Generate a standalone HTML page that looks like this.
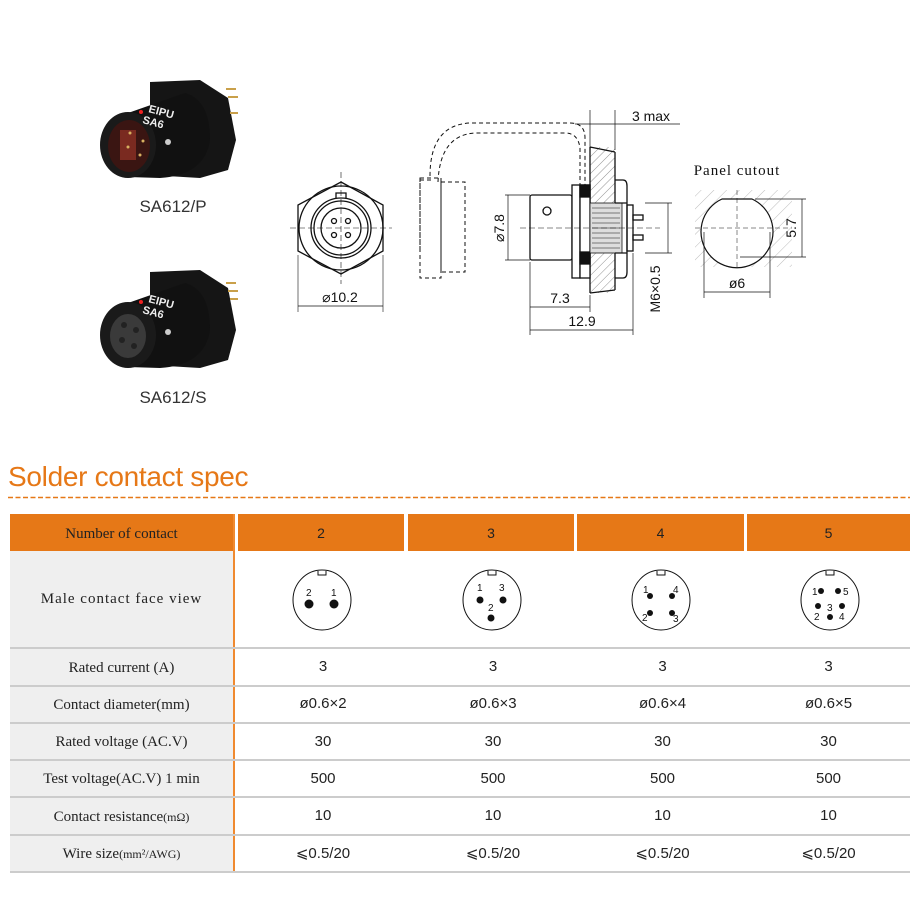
<!DOCTYPE html>
<html><head><meta charset="utf-8"><style>
body{margin:0;width:910px;height:900px;background:#fff;position:relative;overflow:hidden;font-family:"Liberation Sans",sans-serif}
.a{position:absolute}
.cell{position:absolute;display:flex;align-items:center;justify-content:center;font-size:14px;color:#222}
.lab{font-family:"Liberation Serif",serif;font-size:15px;color:#222}
.hd{background:#e67817}
</style></head><body>
<svg class="a" style="left:0;top:0" width="910" height="460" viewBox="0 0 910 460">
<defs>
<pattern id="h" width="6" height="6" patternUnits="userSpaceOnUse" patternTransform="rotate(45)"><line x1="0" y1="0" x2="0" y2="6" stroke="#777" stroke-width="0.8"/></pattern>
<pattern id="h2" width="9" height="9" patternUnits="userSpaceOnUse" patternTransform="rotate(45)"><line x1="0" y1="0" x2="0" y2="9" stroke="#aaa" stroke-width="0.8"/></pattern>
</defs>
<!-- photo 1 -->
<g>
<polygon points="150,82 200,80 228,98 236,140 228,170 200,178 150,175" fill="#151515"/>
<rect x="226" y="88" width="10" height="2" fill="#c9a04a"/><rect x="228" y="96" width="10" height="2" fill="#c9a04a"/><rect x="230" y="112" width="8" height="2" fill="#c9a04a"/>
<path d="M128,113 L185,93 Q210,100 210,140 Q205,175 160,178 L128,177 Z" fill="#111"/>
<ellipse cx="128" cy="145" rx="28" ry="33" fill="#1a1a1a"/>
<ellipse cx="129" cy="146" rx="21" ry="26" fill="#3a1512"/>
<rect x="120" y="130" width="16" height="30" fill="#7a2a20"/>
<circle cx="130" cy="133" r="1.5" fill="#d7b060"/><circle cx="143" cy="141" r="1.5" fill="#d7b060"/><circle cx="128" cy="147" r="1.5" fill="#d7b060"/><circle cx="140" cy="155" r="1.5" fill="#d7b060"/>
<circle cx="168" cy="142" r="3" fill="#ccc"/>
<text x="148" y="112" font-size="11" fill="#eee" font-weight="bold" transform="rotate(15 148 112)">EIPU</text>
<text x="142" y="123" font-size="11" fill="#eee" font-weight="bold" transform="rotate(15 142 123)">SA6</text>
<circle cx="141" cy="112" r="2" fill="#e22"/>
</g>
<!-- photo 2 -->
<g>
<polygon points="150,272 200,270 228,288 236,330 228,360 200,368 150,365" fill="#151515"/>
<rect x="226" y="282" width="10" height="2" fill="#c9a04a"/><rect x="228" y="290" width="10" height="2" fill="#c9a04a"/><rect x="230" y="298" width="8" height="2" fill="#c9a04a"/>
<path d="M128,303 L185,283 Q210,290 210,330 Q205,365 160,368 L128,367 Z" fill="#111"/>
<ellipse cx="128" cy="335" rx="28" ry="33" fill="#1a1a1a"/>
<ellipse cx="128" cy="336" rx="18" ry="22" fill="#3a3a3a"/>
<circle cx="124" cy="325" r="3" fill="#222"/><circle cx="136" cy="330" r="3" fill="#222"/><circle cx="122" cy="340" r="3" fill="#222"/><circle cx="134" cy="346" r="3" fill="#222"/>
<circle cx="168" cy="332" r="3" fill="#ccc"/>
<text x="148" y="302" font-size="11" fill="#eee" font-weight="bold" transform="rotate(15 148 302)">EIPU</text>
<text x="142" y="313" font-size="11" fill="#eee" font-weight="bold" transform="rotate(15 142 313)">SA6</text>
<circle cx="141" cy="302" r="2" fill="#e22"/>
</g>
<text x="173" y="212" font-size="17" fill="#333" text-anchor="middle">SA612/P</text>
<text x="173" y="403" font-size="17" fill="#333" text-anchor="middle">SA612/S</text>

<g fill="none" stroke="#111" stroke-width="1.3">
<polygon points="341,182 383,205 383,251 341,274 298,251 298,205"/>
<circle cx="341" cy="228" r="42"/>
<circle cx="341" cy="228" r="30"/>
<circle cx="341" cy="228" r="27"/>
<circle cx="341" cy="228" r="20"/>
<path d="M336,198 v-5 h10 v5"/>
<circle cx="334" cy="221" r="2.5"/><circle cx="348" cy="221" r="2.5"/><circle cx="334" cy="235" r="2.5"/><circle cx="348" cy="235" r="2.5"/>
<line x1="290" y1="228" x2="392" y2="228" stroke-dasharray="6,3" stroke-width="0.6"/>
<line x1="341" y1="172" x2="341" y2="284" stroke-dasharray="6,3" stroke-width="0.6"/>
<line x1="298" y1="255" x2="298" y2="312" stroke-width="0.6"/><line x1="383" y1="255" x2="383" y2="312" stroke-width="0.6"/>
<line x1="298" y1="306" x2="383" y2="306" stroke-width="0.7"/>
</g>
<text x="340" y="302" font-size="14" text-anchor="middle" fill="#111">⌀10.2</text>

<g fill="none" stroke="#111" stroke-width="1.3">
<path d="M420,250 V180 h12 v0 M430,176 Q430,125 470,123 H570 Q585,123 585,138 V185" stroke-dasharray="4,3" stroke-width="1"/>
<path d="M438,182 Q440,135 475,133 H565 Q578,133 580,148 V185" stroke-dasharray="4,3" stroke-width="1"/>
<rect x="420" y="178" width="21" height="100" stroke-dasharray="4,3" stroke-width="1"/>
<rect x="441" y="182" width="24" height="90" stroke-dasharray="4,3" stroke-width="1"/>
<rect x="590" y="147" width="25" height="146" fill="url(#h)" stroke="none"/>
<path d="M590,147 V293 M615,152 V290 M590,147 L615,152 M590,293 L615,290"/>
<rect x="530" y="195" width="42" height="65" rx="2" fill="#fff"/>
<circle cx="547" cy="211" r="4"/>
<rect x="572" y="185" width="8" height="93" fill="#fff"/>
<rect x="580" y="185" width="10" height="93" fill="#fff"/>
<rect x="580" y="185" width="10" height="12" fill="#111"/><rect x="580" y="252" width="10" height="12" fill="#111"/>
<rect x="590" y="203" width="32" height="50" fill="#ddd" stroke-width="0.8"/>
<path d="M592,208h28M592,213h28M592,218h28M592,223h28M592,228h28M592,233h28M592,238h28M592,243h28M592,248h28" stroke-width="0.6"/>
<path d="M615,180 h8 q4,0 4,6 v86 q0,6 -4,6 h-8 M615,203 h12 M615,253 h12"/>
<rect x="627" y="205" width="6" height="46"/>
<rect x="633" y="215" width="10" height="5"/><rect x="633" y="235" width="10" height="5"/>
<line x1="520" y1="228" x2="660" y2="228" stroke-dasharray="6,3" stroke-width="0.6"/>
<g stroke-width="0.7">
<line x1="505" y1="195" x2="530" y2="195"/><line x1="505" y1="260" x2="530" y2="260"/><line x1="508" y1="195" x2="508" y2="260"/>
<line x1="530" y1="262" x2="530" y2="335"/><line x1="590" y1="295" x2="590" y2="312"/><line x1="633" y1="253" x2="633" y2="335"/>
<line x1="530" y1="307" x2="590" y2="307"/><line x1="530" y1="330" x2="633" y2="330"/>
<line x1="590" y1="110" x2="590" y2="147"/><line x1="615" y1="110" x2="615" y2="150"/>
<line x1="575" y1="124" x2="680" y2="124"/>
<line x1="645" y1="203" x2="672" y2="203"/><line x1="645" y1="253" x2="672" y2="253"/><line x1="668" y1="203" x2="668" y2="253"/>
</g>
</g>
<text x="504" y="228" font-size="14" text-anchor="middle" fill="#111" transform="rotate(-90 504 228)">⌀7.8</text>
<text x="560" y="303" font-size="14" text-anchor="middle" fill="#111">7.3</text>
<text x="582" y="326" font-size="14" text-anchor="middle" fill="#111">12.9</text>
<text x="660" y="289" font-size="14" text-anchor="middle" fill="#111" transform="rotate(-90 660 289)">M6×0.5</text>
<text x="651" y="121" font-size="14" text-anchor="middle" fill="#111">3 max</text>
<text x="737" y="175" font-size="15" text-anchor="middle" fill="#111" font-family="Liberation Serif" letter-spacing="1">Panel cutout</text>
<rect x="695" y="190" width="97" height="77" fill="url(#h2)"/>
<path d="M722,199 H752 A36,36 0 1 1 722,199 Z" fill="#fff" stroke="#111" stroke-width="1.2"/>
<g stroke="#111" stroke-width="0.7" fill="none">
<line x1="695" y1="228" x2="792" y2="228" stroke-dasharray="5,3" stroke-width="0.5"/>
<line x1="737" y1="190" x2="737" y2="267" stroke-dasharray="5,3" stroke-width="0.5"/>
<line x1="755" y1="199" x2="806" y2="199"/><line x1="740" y1="257" x2="806" y2="257"/><line x1="802" y1="199" x2="802" y2="257"/>
<line x1="704" y1="232" x2="704" y2="298"/><line x1="770" y1="232" x2="770" y2="298"/><line x1="704" y1="292" x2="770" y2="292"/>
</g>
<text x="796" y="228" font-size="14" text-anchor="middle" fill="#111" transform="rotate(-90 796 228)">5.7</text>
<text x="737" y="288" font-size="14" text-anchor="middle" fill="#111">ø6</text>
</svg>

<div class="a" style="left:8px;top:461px;font-size:28px;color:#e67817;font-family:'Liberation Sans',sans-serif;letter-spacing:-0.3px">Solder contact spec</div>
<svg class="a" style="left:8px;top:496px" width="902" height="3"><line x1="0" y1="1.5" x2="902" y2="1.5" stroke="#e67817" stroke-width="1.5" stroke-dasharray="5,2.5"/></svg>

<div class="a" style="left:10px;top:551px;width:224px;height:321px;background:#efefef"></div>
<div class="a" style="left:233px;top:514px;width:2px;height:358px;background:#f08a30"></div>
<div class="cell hd lab" style="left:10px;top:518px;width:223px;height:33px;font-size:15px">Number of contact</div>
<div class="a hd" style="left:10px;top:514px;width:223px;height:4px"></div>
<div class="cell hd" style="left:238px;top:514px;width:166px;height:37px">2</div>
<div class="cell hd" style="left:408px;top:514px;width:166px;height:37px">3</div>
<div class="cell hd" style="left:577px;top:514px;width:167px;height:37px">4</div>
<div class="cell hd" style="left:747px;top:514px;width:163px;height:37px">5</div>

<div class="cell lab" style="left:10px;top:551px;width:223px;height:97px;letter-spacing:1px">Male contact face view</div>
<svg class="a" style="left:235px;top:551px" width="675" height="97" viewBox="235 551 675 97" font-family="Liberation Sans" font-size="10" fill="#111">
<g fill="none" stroke="#111" stroke-width="1"><ellipse cx="322" cy="600" rx="29" ry="30"/><ellipse cx="492" cy="600" rx="29" ry="30"/><ellipse cx="661" cy="600" rx="29" ry="30"/><ellipse cx="830" cy="600" rx="29" ry="30"/>
<path d="M318,571v4h8v-4M488,571v4h8v-4M657,571v4h8v-4M826,571v4h8v-4"/></g>
<circle cx="309" cy="604" r="4.5"/><circle cx="334" cy="604" r="4.5"/><text x="306" y="596">2</text><text x="331" y="596">1</text>
<circle cx="480" cy="600" r="3.5"/><circle cx="503" cy="600" r="3.5"/><circle cx="491" cy="618" r="3.5"/><text x="477" y="591">1</text><text x="499" y="591">3</text><text x="488" y="611">2</text>
<circle cx="650" cy="596" r="3"/><circle cx="672" cy="596" r="3"/><circle cx="650" cy="613" r="3"/><circle cx="672" cy="613" r="3"/><text x="643" y="593">1</text><text x="673" y="593">4</text><text x="642" y="621">2</text><text x="673" y="622">3</text>
<circle cx="821" cy="591" r="3"/><circle cx="838" cy="591" r="3"/><circle cx="818" cy="606" r="3"/><circle cx="842" cy="606" r="3"/><circle cx="830" cy="617" r="3"/><text x="812" y="595">1</text><text x="843" y="595">5</text><text x="827" y="611">3</text><text x="814" y="620">2</text><text x="839" y="620">4</text>
</svg>

<div class="a" style="left:10px;top:647px;width:900px;height:2px;background:#ccc"></div>
<div class="a" style="left:10px;top:685px;width:900px;height:2px;background:#ccc"></div>
<div class="a" style="left:10px;top:722px;width:900px;height:2px;background:#ccc"></div>
<div class="a" style="left:10px;top:759px;width:900px;height:2px;background:#ccc"></div>
<div class="a" style="left:10px;top:796px;width:900px;height:2px;background:#ccc"></div>
<div class="a" style="left:10px;top:834px;width:900px;height:2px;background:#ccc"></div>
<div class="a" style="left:10px;top:871px;width:900px;height:2px;background:#ccc"></div>

<div class="cell lab" style="left:10px;top:650px;width:223px;height:36px">Rated current (A)</div>
<div class="cell lab" style="left:10px;top:688px;width:223px;height:35px">Contact diameter(mm)</div>
<div class="cell lab" style="left:10px;top:725px;width:223px;height:35px">Rated voltage (AC.V)</div>
<div class="cell lab" style="left:10px;top:762px;width:223px;height:35px">Test voltage(AC.V) 1 min</div>
<div class="cell lab" style="left:10px;top:799px;width:223px;height:36px">Contact resistance<span style="font-size:12px">(mΩ)</span></div>
<div class="cell lab" style="left:10px;top:837px;width:223px;height:35px">Wire size<span style="font-size:12px">(mm²/AWG)</span></div>

<div class="a" style="left:238px;top:649px;width:672px">
<div style="display:grid;grid-template-columns:170px 170px 169px 163px;font-size:15px;color:#222;text-align:center">
<div style="line-height:36px">3</div><div style="line-height:36px">3</div><div style="line-height:36px">3</div><div style="line-height:36px">3</div>
<div style="line-height:38px">ø0.6×2</div><div style="line-height:38px">ø0.6×3</div><div style="line-height:38px">ø0.6×4</div><div style="line-height:38px">ø0.6×5</div>
<div style="line-height:37px">30</div><div style="line-height:37px">30</div><div style="line-height:37px">30</div><div style="line-height:37px">30</div>
<div style="line-height:37px">500</div><div style="line-height:37px">500</div><div style="line-height:37px">500</div><div style="line-height:37px">500</div>
<div style="line-height:38px">10</div><div style="line-height:38px">10</div><div style="line-height:38px">10</div><div style="line-height:38px">10</div>
<div style="line-height:37px">⩽0.5/20</div><div style="line-height:37px">⩽0.5/20</div><div style="line-height:37px">⩽0.5/20</div><div style="line-height:37px">⩽0.5/20</div>
</div></div>
</body></html>
